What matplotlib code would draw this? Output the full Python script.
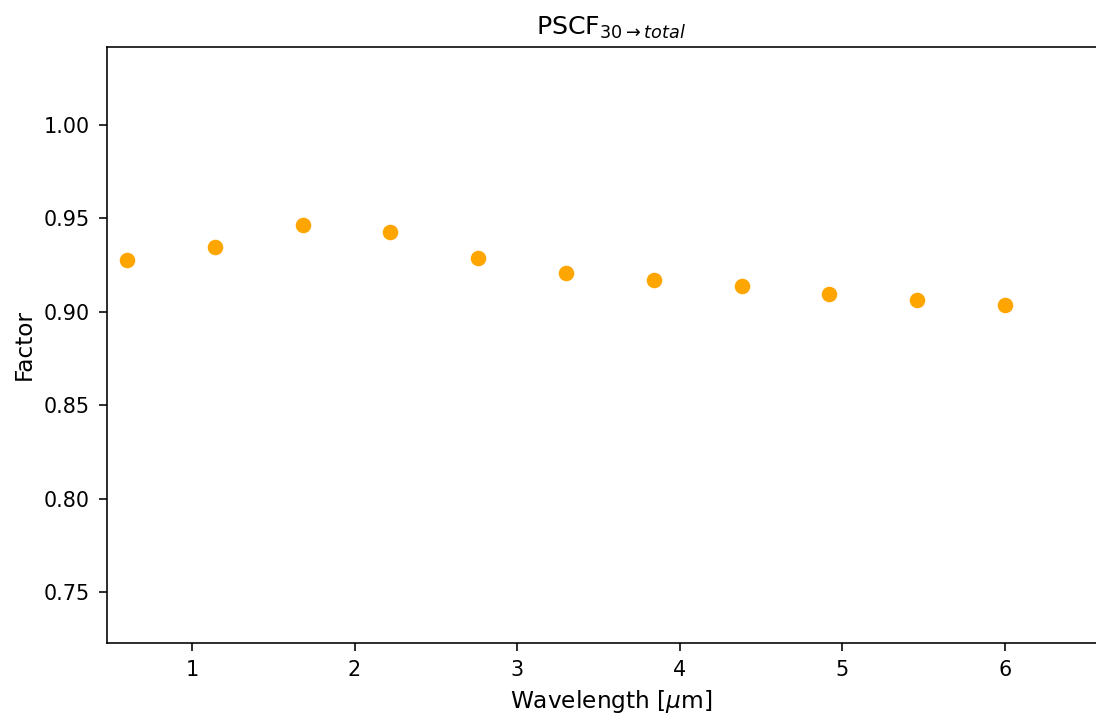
import matplotlib
matplotlib.use("Agg")
import matplotlib.pyplot as plt

# wavelengths [um] and correction factors
wavelength = [0.60, 1.14, 1.68, 2.22, 2.76, 3.30, 3.84, 4.38, 4.92, 5.46, 6.00]
factor = [0.9280, 0.9345, 0.9463, 0.9425, 0.9290, 0.9206, 0.9173, 0.9140, 0.9098, 0.9066, 0.9034]

plt.rcParams["xtick.labelsize"] = 10.4
plt.rcParams["ytick.labelsize"] = 10.4
plt.rcParams["axes.labelsize"] = 11.6
plt.rcParams["axes.titlesize"] = 12.6

W, H, DPI = 1096, 713, 144
fig = plt.figure(figsize=(W / DPI, H / DPI), dpi=DPI)
# axes runs past the right edge, as in the cropped original
right_px = 1115
ax = fig.add_axes([107 / W, (H - 643) / H, (right_px - 107) / W, (643 - 47) / H])

ax.scatter(wavelength, factor, s=72, color="orange", edgecolor="white", linewidth=0.7, zorder=3)

px_per_unit = 162.6
ax.set_xlim(1 - (192 - 107) / px_per_unit, 1 + (right_px - 192) / px_per_unit)
ax.set_ylim(0.7227, 1.0418)
ax.set_xticks([1, 2, 3, 4, 5, 6])
ax.set_yticks([0.75, 0.80, 0.85, 0.90, 0.95, 1.00])
ax.tick_params(length=4, pad=4.5)
ax.set_xlabel(r"Wavelength [$\mu$m]")
ax.set_ylabel("Factor")
ax.set_title(r"PSCF$_{30\rightarrow total}$")

fig.savefig("out.png", dpi=DPI)
